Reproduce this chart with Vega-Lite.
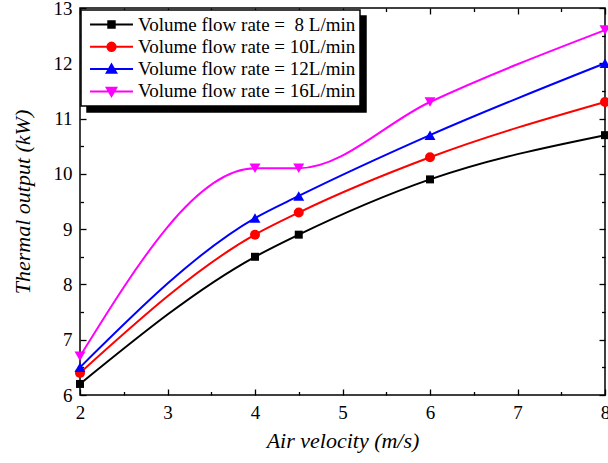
{
  "$schema": "https://vega.github.io/schema/vega-lite/v6.json",
  "width": 525,
  "height": 387,
  "autosize": {"type": "none"},
  "padding": {"left": 80, "top": 8, "right": 3, "bottom": 68},
  "background": "white",
  "config": {
    "view": {"stroke": "black", "strokeWidth": 1.5},
    "font": "Liberation Serif",
    "axis": {
      "grid": false,
      "domain": false,
      "tickColor": "black",
      "tickWidth": 1.3,
      "labelColor": "black",
      "labelFont": "Liberation Serif",
      "labelFontSize": 19,
      "titleFont": "Liberation Serif",
      "titleFontSize": 22,
      "titleFontStyle": "italic",
      "titleFontWeight": "normal",
      "titleColor": "black",
      "labelFlush": false,
      "labelOverlap": false
    },
    "legend": {
      "orient": "none",
      "title": null,
      "padding": 4,
      "labelFont": "Liberation Serif",
      "labelFontSize": 19,
      "labelLimit": 400,
      "labelOffset": 16,
      "symbolOffset": 16,
      "symbolSize": 361,
      "symbolStrokeWidth": 2,
      "rowPadding": 1.3
    }
  },
  "data": {
    "values": [
      {"v": 2, "p": 6.2, "rate": "8 L/min"},
      {"v": 4, "p": 8.5, "rate": "8 L/min"},
      {"v": 4.5, "p": 8.9, "rate": "8 L/min"},
      {"v": 6, "p": 9.9, "rate": "8 L/min"},
      {"v": 8, "p": 10.7, "rate": "8 L/min"},
      {"v": 2, "p": 6.4, "rate": "10L/min"},
      {"v": 4, "p": 8.9, "rate": "10L/min"},
      {"v": 4.5, "p": 9.3, "rate": "10L/min"},
      {"v": 6, "p": 10.3, "rate": "10L/min"},
      {"v": 8, "p": 11.3, "rate": "10L/min"},
      {"v": 2, "p": 6.5, "rate": "12L/min"},
      {"v": 4, "p": 9.2, "rate": "12L/min"},
      {"v": 4.5, "p": 9.6, "rate": "12L/min"},
      {"v": 6, "p": 10.7, "rate": "12L/min"},
      {"v": 8, "p": 12.0, "rate": "12L/min"},
      {"v": 2, "p": 6.7, "rate": "16L/min"},
      {"v": 4, "p": 10.1, "rate": "16L/min"},
      {"v": 4.5, "p": 10.1, "rate": "16L/min"},
      {"v": 6, "p": 11.3, "rate": "16L/min"},
      {"v": 8, "p": 12.6, "rate": "16L/min"}
    ]
  },
  "resolve": {"axis": {"x": "independent", "y": "independent"}},
  "layer": [
    {
      "mark": {"type": "line", "opacity": 0, "strokeWidth": 2},
      "encoding": {
        "x": {"field": "v", "type": "quantitative", "axis": null},
        "y": {"field": "p", "type": "quantitative", "axis": null},
        "stroke": {
          "field": "rate", "type": "nominal",
          "scale": {"domain": ["16L/min", "12L/min", "10L/min", "8 L/min"], "range": ["#000000", "#000000", "#000000", "#000000"]},
          "legend": {
            "title": null,
            "legendX": 7,
            "legendY": 8,
            "zindex": 0,
            "fillColor": "black",
            "strokeColor": "black",
            "labelColor": "black",
            "labelOpacity": 0,
            "labelExpr": "datum.label == '8 L/min' ? 'Volume flow rate =\u00a0\u00a08 L/min' : 'Volume flow rate = ' + datum.label",
            "encode": {
              "legend": {"update": {"strokeWidth": {"value": 1.5}}},
              "symbols": {
                "update": {
                  "shape": {"signal": "datum.value == '8 L/min' ? 'M-2.26,0H2.26M-0.34,-0.34H0.34V0.34H-0.34Z' : datum.value == '10L/min' ? 'M-2.26,0H2.26M-0.44,0A0.44,0.44,0,1,1,0.44,0A0.44,0.44,0,1,1,-0.44,0Z' : datum.value == '12L/min' ? 'M-2.26,0H2.26M-0.5,0.38L0,-0.48L0.5,0.38Z' : 'M-2.26,0H2.26M-0.5,-0.38L0,0.48L0.5,-0.38Z'"},
                  "strokeWidth": {"value": 2},
                  "opacity": {"value": 0}
                }
              }
            }
          }
        }
      }
    },
    {
      "mark": {"type": "line", "interpolate": "monotone", "strokeWidth": 2},
      "encoding": {
        "x": {
          "field": "v", "type": "quantitative",
          "scale": {"domain": [2, 8], "nice": false, "zero": false},
          "axis": {"orient": "bottom", "values": [2, 3, 4, 5, 6, 7, 8], "tickSize": -6, "labelPadding": 14, "title": "Air velocity (m/s)", "titlePadding": 8}
        },
        "y": {
          "field": "p", "type": "quantitative",
          "scale": {"domain": [6, 13], "nice": false, "zero": false},
          "axis": {"orient": "left", "values": [6, 7, 8, 9, 10, 11, 12, 13], "tickSize": -6, "labelPadding": 14, "title": "Thermal output (kW)", "titlePadding": 19}
        },
        "color": {
          "field": "rate", "type": "nominal",
          "scale": {"domain": ["8 L/min", "10L/min", "12L/min", "16L/min"], "range": ["#000000", "#ff0000", "#0000ff", "#ff00ff"]},
          "legend": {
            "title": null,
            "legendX": 1,
            "legendY": 2,
            "zindex": 1,
            "strokeColor": "black",
            "fillColor": "white",
            "labelColor": "black",
            "labelExpr": "datum.label == '8 L/min' ? 'Volume flow rate =\u00a0\u00a08 L/min' : 'Volume flow rate = ' + datum.label",
            "encode": {
              "legend": {"update": {"strokeWidth": {"value": 1.5}}},
              "symbols": {
                "update": {
                  "shape": {"signal": "datum.value == '8 L/min' ? 'M-2.26,0H2.26M-0.34,-0.34H0.34V0.34H-0.34Z' : datum.value == '10L/min' ? 'M-2.26,0H2.26M-0.44,0A0.44,0.44,0,1,1,0.44,0A0.44,0.44,0,1,1,-0.44,0Z' : datum.value == '12L/min' ? 'M-2.26,0H2.26M-0.5,0.38L0,-0.48L0.5,0.38Z' : 'M-2.26,0H2.26M-0.5,-0.38L0,0.48L0.5,-0.38Z'"},
                  "stroke": {"scale": "color", "field": "value"},
                  "fill": {"scale": "color", "field": "value"},
                  "strokeWidth": {"value": 2},
                  "opacity": {"value": 1},
                  "fillOpacity": {"value": 1},
                  "strokeOpacity": {"value": 1}
                }
              }
            }
          }
        }
      }
    },
    {
      "transform": [{"filter": "datum.rate == '8 L/min'"}],
      "mark": {"type": "point", "filled": true, "opacity": 1, "shape": "square", "size": 64, "color": "#000000"},
      "encoding": {
        "x": {"field": "v", "type": "quantitative", "axis": null},
        "y": {"field": "p", "type": "quantitative", "axis": null}
      }
    },
    {
      "transform": [{"filter": "datum.rate == '10L/min'"}],
      "mark": {"type": "point", "filled": true, "opacity": 1, "shape": "circle", "size": 100, "color": "#ff0000"},
      "encoding": {
        "x": {"field": "v", "type": "quantitative", "axis": null},
        "y": {"field": "p", "type": "quantitative", "axis": null}
      }
    },
    {
      "transform": [{"filter": "datum.rate == '12L/min'"}],
      "mark": {"type": "point", "filled": true, "opacity": 1, "shape": "triangle-up", "size": 120, "color": "#0000ff"},
      "encoding": {
        "x": {"field": "v", "type": "quantitative", "axis": null},
        "y": {"field": "p", "type": "quantitative", "axis": null}
      }
    },
    {
      "transform": [{"filter": "datum.rate == '16L/min'"}],
      "mark": {"type": "point", "filled": true, "opacity": 1, "shape": "triangle-down", "size": 120, "color": "#ff00ff"},
      "encoding": {
        "x": {"field": "v", "type": "quantitative", "axis": null},
        "y": {"field": "p", "type": "quantitative", "axis": null}
      }
    },
    {
      "mark": {"type": "point", "opacity": 0},
      "encoding": {
        "x": {"field": "v", "type": "quantitative", "axis": {"orient": "bottom", "values": [2.5, 3.5, 4.5, 5.5, 6.5, 7.5], "tickSize": -3.5, "labels": false, "title": null}},
        "y": {"field": "p", "type": "quantitative", "axis": {"orient": "left", "values": [6.5, 7.5, 8.5, 9.5, 10.5, 11.5, 12.5], "tickSize": -3.5, "labels": false, "title": null}}
      }
    },
    {
      "mark": {"type": "point", "opacity": 0},
      "encoding": {
        "x": {"field": "v", "type": "quantitative", "axis": {"orient": "top", "values": [2, 3, 4, 5, 6, 7, 8], "tickSize": -6, "labels": false, "title": null}},
        "y": {"field": "p", "type": "quantitative", "axis": {"orient": "right", "values": [6, 7, 8, 9, 10, 11, 12, 13], "tickSize": -6, "labels": false, "title": null}}
      }
    },
    {
      "mark": {"type": "point", "opacity": 0},
      "encoding": {
        "x": {"field": "v", "type": "quantitative", "axis": {"orient": "top", "values": [2.5, 3.5, 4.5, 5.5, 6.5, 7.5], "tickSize": -3.5, "labels": false, "title": null}},
        "y": {"field": "p", "type": "quantitative", "axis": {"orient": "right", "values": [6.5, 7.5, 8.5, 9.5, 10.5, 11.5, 12.5], "tickSize": -3.5, "labels": false, "title": null}}
      }
    }
  ]
}
